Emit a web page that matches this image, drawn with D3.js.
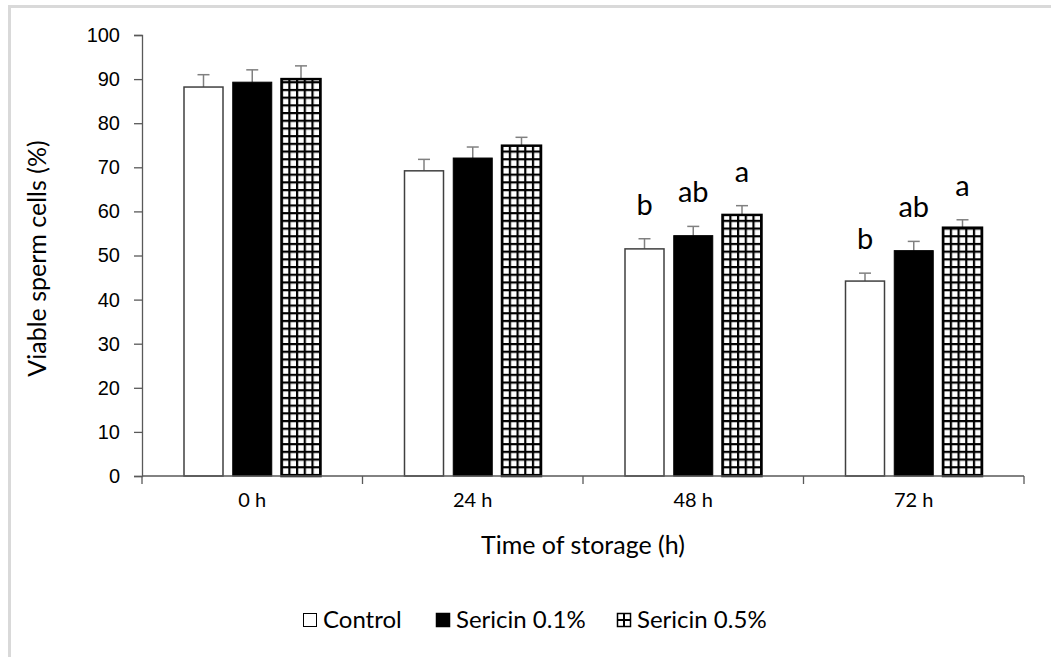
<!DOCTYPE html>
<html>
<head>
<meta charset="utf-8">
<script src="https://cdn.jsdelivr.net/npm/d3@7"></script>
<style>
  body { margin: 0; background: #fff; }
  svg { display: block; font-family: Lato, "Open Sans", sans-serif; }
</style>
</head>
<body>
<div id="chart"></div>
<script>
const categories = ['0 h', '24 h', '48 h', '72 h']
const seriesNames = ['Control', 'Sericin 0.1%', 'Sericin 0.5%']
const control = [88.2, 69.2, 51.5, 44.2]
const sericin01 = [89.3, 72.1, 54.5, 51.1]
const sericin05 = [90.0, 74.9, 59.2, 56.3]
const errControl = [2.8, 2.6, 2.3, 1.8]
const errSericin01 = [2.8, 2.5, 2.1, 2.1]
const errSericin05 = [3.0, 1.9, 2.1, 1.8]
const letters = [
    [null, null, null],
    [null, null, null],
    ['b', 'ab', 'a'],
    ['b', 'ab', 'a']
]
const yTicks = d3.range(0, 101, 10)

const width = 1051, height = 657
const margin = { left: 142, right: 27, top: 35, bottom: 181 }
const innerW = width - margin.left - margin.right
const innerH = height - margin.top - margin.bottom

const series = [control, sericin01, sericin05]
const errors = [errControl, errSericin01, errSericin05]

const svg = d3.select('#chart').append('svg')
    .attr('width', width)
    .attr('height', height)

// grid pattern for the 0.5% bars
const defs = svg.append('defs')
const pat = defs.append('pattern')
    .attr('id', 'grid')
    .attr('patternUnits', 'userSpaceOnUse')
    .attr('width', 7.7)
    .attr('height', 7.7)
pat.append('rect').attr('width', 7.7).attr('height', 7.7).attr('fill', '#fff')
pat.append('rect').attr('x', 0).attr('y', 0).attr('width', 2.2).attr('height', 7.7).attr('fill', '#000')
pat.append('rect').attr('x', 0).attr('y', 0).attr('width', 7.7).attr('height', 2.2).attr('fill', '#000')

// frame
svg.append('path')
    .attr('d', `M9.5,${height} V6.5 H${width}`)
    .attr('fill', 'none')
    .attr('stroke', '#d9d9d9')
    .attr('stroke-width', 3)

const g = svg.append('g').attr('transform', `translate(${margin.left},${margin.top})`)

const x0 = d3.scaleBand().domain(categories).range([0, innerW]).paddingInner(0).paddingOuter(0)
const x1 = d3.scaleBand().domain(seriesNames).range([42, x0.bandwidth() - 42]).paddingInner(0.2)
const y = d3.scaleLinear().domain([0, 100]).range([innerH, 0])

const fills = ['#fff', '#000', 'url(#grid)']
const strokes = ['#404040', '#000', '#000']
const strokeW = [1.5, 1, 2.5]

categories.forEach((c, ci) => {
    const grp = g.append('g').attr('transform', `translate(${x0(c)},0)`)
    seriesNames.forEach((s, si) => {
        const v = series[si][ci]
        const bx = x1(s)
        const bw = x1.bandwidth()
        // error bar
        const e = errors[si][ci]
        grp.append('line')
            .attr('x1', bx + bw / 2).attr('x2', bx + bw / 2)
            .attr('y1', y(v)).attr('y2', y(v + e))
            .attr('stroke', '#808080').attr('stroke-width', 1.5)
        grp.append('line')
            .attr('x1', bx + bw / 2 - 6).attr('x2', bx + bw / 2 + 6)
            .attr('y1', y(v + e)).attr('y2', y(v + e))
            .attr('stroke', '#808080').attr('stroke-width', 1.5)
        grp.append('rect')
            .attr('x', bx)
            .attr('y', y(v))
            .attr('width', bw)
            .attr('height', y(0) - y(v))
            .attr('fill', fills[si])
            .attr('stroke', strokes[si])
            .attr('stroke-width', strokeW[si])
        const l = letters[ci][si]
        if (l) {
            grp.append('text')
                .attr('x', bx + bw / 2)
                .attr('y', y(v + e) - 24)
                .attr('text-anchor', 'middle')
                .style('font-size', '29px')
                .attr('fill', '#000')
                .text(l)
        }
    })
})

// y axis
const yAxis = g.append('g')
    .call(d3.axisLeft(y).tickValues(yTicks).tickSize(8).tickPadding(14))
yAxis.select('.domain').attr('stroke', '#595959').attr('stroke-width', 1.3)
yAxis.selectAll('.tick line').attr('stroke', '#595959').attr('stroke-width', 1.3)
yAxis.selectAll('.tick text').style('font-size', '20px').attr('fill', '#000')

// x axis
const xAxisG = g.append('g').attr('transform', `translate(0,${innerH})`)
xAxisG.append('line')
    .attr('x1', 0).attr('x2', innerW)
    .attr('stroke', '#595959').attr('stroke-width', 1.3)
const boundaries = categories.map(c => x0(c)).concat([innerW])
xAxisG.selectAll('.xt').data(boundaries).enter().append('line')
    .attr('x1', d => d).attr('x2', d => d)
    .attr('y1', 0).attr('y2', 8)
    .attr('stroke', '#595959').attr('stroke-width', 1.3)
xAxisG.selectAll('.xl').data(categories).enter().append('text')
    .attr('x', d => x0(d) + x0.bandwidth() / 2)
    .attr('y', 31)
    .attr('text-anchor', 'middle')
    .style('font-size', '20px')
    .attr('fill', '#000')
    .text(d => d)

// axis titles
svg.append('text')
    .attr('x', margin.left + innerW / 2)
    .attr('y', 554)
    .attr('text-anchor', 'middle')
    .style('font-size', '25px')
    .attr('fill', '#000')
    .text('Time of storage (h)')

svg.append('text')
    .attr('transform', `translate(46,${margin.top + innerH / 2 + 3}) rotate(-90)`)
    .attr('text-anchor', 'middle')
    .style('font-size', '25px')
    .attr('fill', '#000')
    .text('Viable sperm cells (%)')

// legend
const legendX = [303, 436, 617]
const legend = svg.append('g')
seriesNames.forEach((s, i) => {
    const lg = legend.append('g').attr('transform', `translate(${legendX[i]},620)`)
    lg.append('rect')
        .attr('x', 0.5).attr('y', -6.5)
        .attr('width', 13).attr('height', 13)
        .attr('fill', i === 2 ? '#fff' : fills[i])
        .attr('stroke', '#000')
        .attr('stroke-width', i === 0 ? 1 : 1.5)
    if (i === 2) {
        lg.append('line').attr('x1', 7).attr('x2', 7).attr('y1', -6.5).attr('y2', 6.5)
            .attr('stroke', '#000').attr('stroke-width', 2)
        lg.append('line').attr('x1', 0.5).attr('x2', 13.5).attr('y1', 0).attr('y2', 0)
            .attr('stroke', '#000').attr('stroke-width', 2)
    }
    lg.append('text')
        .attr('x', 20).attr('y', 0)
        .attr('dy', '0.35em')
        .style('font-size', '24px')
        .attr('fill', '#000')
        .text(s)
})
</script>
</body>
</html>
